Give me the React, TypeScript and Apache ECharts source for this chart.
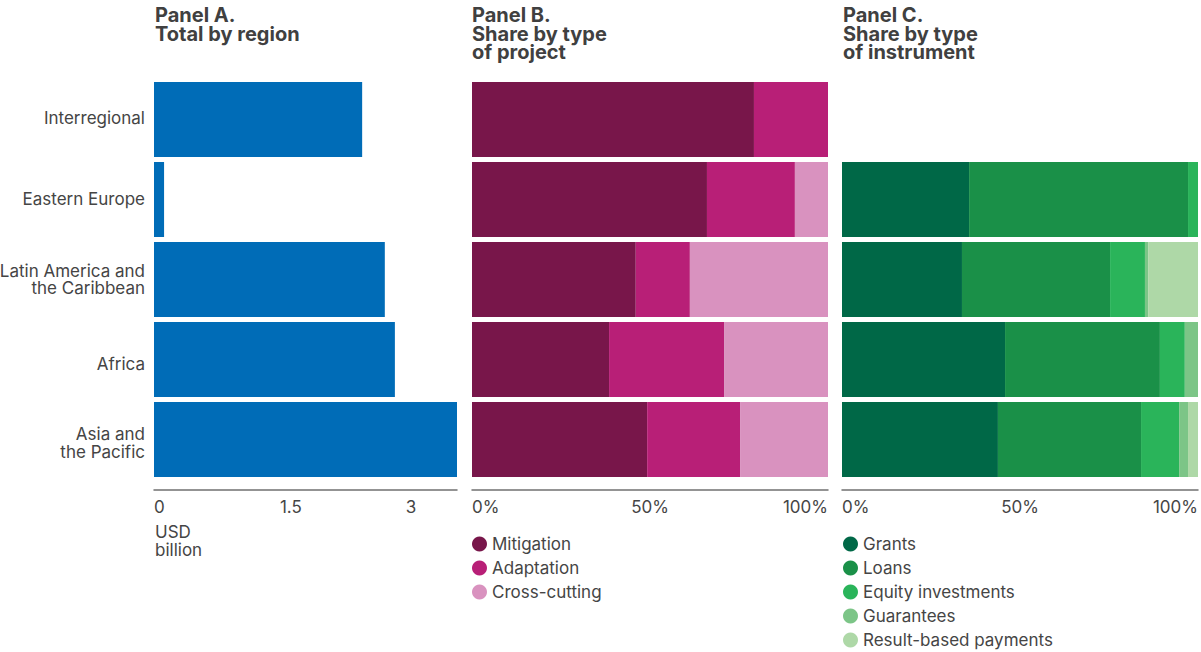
import React, { useEffect, useRef } from "react";
import * as echarts from "echarts";

const regions = [
  "Interregional",
  "Eastern Europe",
  "Latin America and\nthe Caribbean",
  "Africa",
  "Asia and\nthe Pacific",
];

// Panel A: USD billion
const totalByRegion = [2.48, 0.12, 2.75, 2.87, 3.61];

// Panel B: share by type of project (%)
const mitigation = [79.2, 66.0, 46.0, 38.5, 49.2];
const adaptation = [20.8, 24.7, 15.2, 32.3, 26.1];
const crossCutting = [0, 9.3, 38.8, 29.2, 24.7];

// Panel C: share by type of instrument (%)
const grants = [null, 35.7, 33.7, 45.8, 43.8];
const loans = [null, 61.5, 41.6, 43.5, 40.2];
const equity = [null, 2.8, 9.8, 7.0, 10.7];
const guarantees = [null, 0, 0.9, 3.7, 2.5];
const resultBased = [null, 0, 14.0, 0, 2.8];

const panelATicks = ["0", "1.5", "3"];
const shareTicks = ["0%", "50%", "100%"];

const FONT = "Inter, 'Noto Sans', sans-serif";
const TXT = "#454545";
const FS = 17;
const LH = 17.5;

// small vertical nudges of the category labels, as in the reference (px, + = down)
const labelShift = [-2, -1, 0, 4.5, 3.5];

export default function App() {
  const ref = useRef<HTMLDivElement>(null);
  useEffect(() => {
    const chart = echarts.init(ref.current!, null, { renderer: "svg" });
    const gridTop = 79.5;
    const gridH = 400;
    const grids = [
      { left: 154, width: 303, top: gridTop, height: gridH, outerBoundsMode: "none", containLabel: false },
      { left: 472, width: 356, top: gridTop, height: gridH, outerBoundsMode: "none", containLabel: false },
      { left: 842, width: 356, top: gridTop, height: gridH, outerBoundsMode: "none", containLabel: false },
    ];
    const axisLine = { show: true, lineStyle: { color: "#707070", width: 1.5 } };
    const xAxes = [
      {
        gridIndex: 0,
        type: "value",
        min: 0,
        max: 3.61,
        interval: 1.5,
        offset: 10,
        axisLine,
        axisTick: { show: false },
        splitLine: { show: false },
        axisLabel: {
          showMaxLabel: false,
          align: "left",
          margin: 9,
          fontSize: FS,
          color: TXT,
          fontFamily: FONT,
          formatter: (v: number) => {
            const i = Math.round(v / 1.5);
            return Math.abs(v - i * 1.5) < 1e-6 ? panelATicks[i] ?? "" : "";
          },
        },
      },
      ...[1, 2].map((g) => ({
        gridIndex: g,
        type: "value",
        min: 0,
        max: 100,
        interval: 50,
        offset: 10,
        axisLine,
        axisTick: { show: false },
        splitLine: { show: false },
        axisLabel: {
          alignMinLabel: "left",
          alignMaxLabel: "right",
          margin: 9,
          fontSize: FS,
          color: TXT,
          fontFamily: FONT,
          formatter: (v: number) => shareTicks[Math.round(v / 50)] ?? "",
        },
      })),
    ];

    // rich styles: shift a label's block down/up by d using asymmetric padding on its first/last line
    const rich: Record<string, any> = {};
    labelShift.forEach((d, i) => {
      const pTop = d > 0 ? 2 * d : 0;
      const pBot = d < 0 ? -2 * d : 0;
      const base = { fontSize: FS, fontFamily: FONT, color: TXT, align: "right" };
      rich[`f${i}`] = { ...base, padding: [pTop, 0, 0, 0], lineHeight: LH + pTop };
      rich[`l${i}`] = { ...base, padding: [0, 0, pBot, 0], lineHeight: LH + pBot };
      rich[`s${i}`] = { ...base, padding: [pTop, 0, pBot, 0], lineHeight: LH + pTop + pBot };
    });
    const fmtCat = (value: string, idx: number) => {
      const lines = value.split("\n");
      if (lines.length === 1) return `{s${idx}|${lines[0]}}`;
      return `{f${idx}|${lines[0]}}\n{l${idx}|${lines[1]}}`;
    };

    const yAxes = [0, 1, 2].map((g) => ({
      gridIndex: g,
      type: "category",
      inverse: true,
      data: regions,
      axisLine: { show: false },
      axisTick: { show: false },
      splitLine: { show: false },
      axisLabel: {
        show: g === 0,
        margin: 9,
        fontSize: FS,
        color: TXT,
        fontFamily: FONT,
        align: "right",
        formatter: fmtCat,
        rich,
      },
    }));
    const bar = (name: string, data: any[], color: string, idx: number, stack?: string) => ({
      type: "bar",
      name,
      data,
      xAxisIndex: idx,
      yAxisIndex: idx,
      stack,
      barCategoryGap: "6.25%",
      itemStyle: { color },
    });
    const series = [
      bar("Total", totalByRegion, "#006CB7", 0),
      bar("Mitigation", mitigation, "#78164A", 1, "b"),
      bar("Adaptation", adaptation, "#B81F77", 1, "b"),
      bar("Cross-cutting", crossCutting, "#D992BF", 1, "b"),
      bar("Grants", grants, "#006847", 2, "c"),
      bar("Loans", loans, "#1A9048", 2, "c"),
      bar("Equity investments", equity, "#2AB45A", 2, "c"),
      bar("Guarantees", guarantees, "#7CC587", 2, "c"),
      bar("Result-based payments", resultBased, "#AED8A7", 2, "c"),
    ];
    const legendBase = {
      orient: "vertical",
      top: 535.5,
      height: 200,
      padding: 0,
      icon: "circle",
      itemWidth: 15,
      itemHeight: 15,
      itemGap: 7,
      selectedMode: false,
      textStyle: { fontSize: FS, color: TXT, fontFamily: FONT },
    };
    const titleStyle = {
      fontSize: 20,
      fontWeight: "bold",
      lineHeight: 18.5,
      color: "#404040",
      fontFamily: FONT,
    };
    chart.setOption({
      animation: false,
      grid: grids,
      xAxis: xAxes,
      yAxis: yAxes,
      series,
      legend: [
        { ...legendBase, left: 472, data: ["Mitigation", "Adaptation", "Cross-cutting"] },
        {
          ...legendBase,
          left: 843,
          data: ["Grants", "Loans", "Equity investments", "Guarantees", "Result-based payments"],
        },
      ],
      title: [
        { text: "Panel A.\nTotal by region", left: 155, top: 6, padding: 0, textStyle: titleStyle },
        { text: "Panel B.\nShare by type\nof project", left: 472, top: 6, padding: 0, textStyle: titleStyle },
        { text: "Panel C.\nShare by type\nof instrument", left: 843, top: 6, padding: 0, textStyle: titleStyle },
      ],
      graphic: [
        {
          type: "text",
          left: 155,
          top: 523,
          style: {
            text: "USD\nbillion",
            fontSize: FS,
            lineHeight: 18,
            fill: TXT,
            fontFamily: FONT,
          },
        },
      ],
    });
    return () => chart.dispose();
  }, []);
  return (
    <div
      ref={ref}
      style={{ position: "fixed", left: 0, top: 0, width: 1201, height: 652, background: "#fff" }}
    />
  );
}
